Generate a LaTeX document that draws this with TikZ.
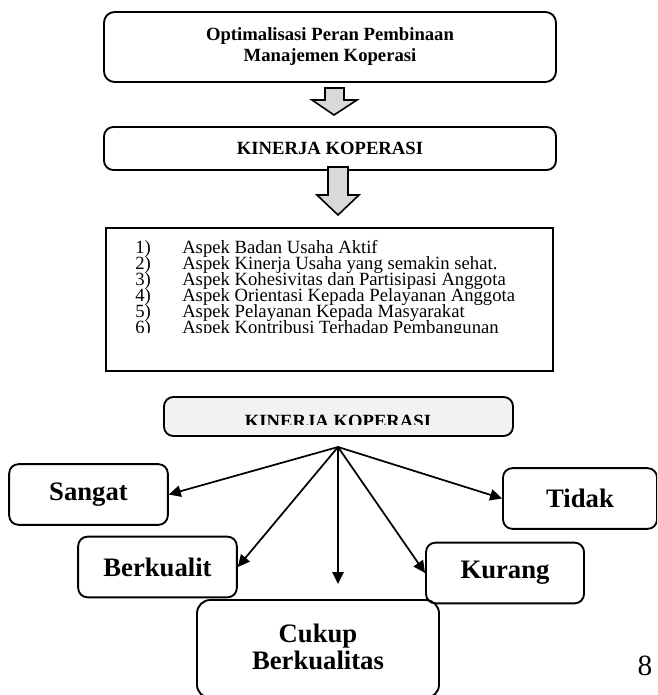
\documentclass[tikz,border=0pt]{standalone}
\usepackage{fontspec}
\setmainfont{Liberation Serif}
\usetikzlibrary{arrows.meta}
\definecolor{arrowgray}{HTML}{D9D9D9}
\definecolor{boxgray}{HTML}{F2F2F2}
\tikzset{
  roundbox/.style={draw, rounded corners=7pt, line width=1.4pt, inner sep=0pt},
  titlefont/.style={font=\bfseries\fontsize{14}{15.75}\selectfont},
  listfont/.style={font=\fontsize{14}{12}\selectfont},
  levelbox/.style={roundbox, minimum width=119pt, minimum height=45.5pt, font=\bfseries\fontsize{20}{20.25}\selectfont},
  blockarrow/.style={draw, line width=1.2pt, fill=arrowgray, line join=miter},
  pointer/.style={-{Triangle[length=9pt,width=8.5pt]}, line width=1.3pt},
}
\begin{document}
\begin{tikzpicture}[x=0.75pt, y=-0.75pt]
  \clip (0,0) rectangle (657,695);
  % bagian atas
  \node[roundbox, rounded corners=8pt, minimum width=339pt, minimum height=52.5pt, titlefont, align=center] (optimal) at (330,47) {Optimalisasi Peran Pembinaan\\Manajemen Koperasi};
  \draw[blockarrow] (325,88) -- (344,88) -- (344,100) -- (357,100) -- (334,115) -- (312,100) -- (325,100) -- cycle;
  \node[roundbox, minimum width=339pt, minimum height=32.25pt, titlefont] (kinerja) at (330,148.5) {KINERJA KOPERASI};
  \draw[blockarrow] (328,167) -- (348,167) -- (348,195) -- (359,195) -- (338,215) -- (317,195) -- (328,195) -- cycle;
  % daftar aspek
  \node[draw, line width=0.8pt, minimum width=335.25pt, minimum height=107.25pt] (aspek) at (329.5,299.5) {};
  \begin{scope}
    \clip (aspek.north west) rectangle (553,332);
    \foreach \n/\teks in {1/{Aspek Badan Usaha Aktif},
                          2/{Aspek Kinerja Usaha yang semakin sehat.},
                          3/{Aspek Kohesivitas dan Partisipasi Anggota},
                          4/{Aspek Orientasi Kepada Pelayanan Anggota},
                          5/{Aspek Pelayanan Kepada Masyarakat},
                          6/{Aspek Kontribusi Terhadap Pembangunan}} {
      \node[anchor=base west, inner sep=0pt, listfont] (no\n) at (135,{253+16*(\n-1)}) {\n)};
      \node[anchor=base west, inner sep=0pt, listfont] (asp\n) at (182,{253+16*(\n-1)}) {\teks};
    }
  \end{scope}
  % bagian bawah
  \node[roundbox, fill=boxgray, minimum width=261.75pt, minimum height=29.25pt] (kinerjabawah) at (338.5,416.5) {};
  \begin{scope}
    \clip (kinerjabawah.north west) rectangle (513,424);
    \node[anchor=base, inner sep=0pt, titlefont] (kinerjateks) at (338,427) {KINERJA KOPERASI};
  \end{scope}
  \coordinate (pusat) at (338,447);
  \node[levelbox] (sangat) at (88.5,494.5) {Sangat};
  \node[levelbox, minimum width=115.5pt] (tidak) at (580,498.5) {Tidak};
  \node[levelbox] (berkualit) at (157.5,567) {Berkualit};
  \node[levelbox, minimum width=118.5pt] (kurang) at (505,573) {Kurang};
  \node[roundbox, rounded corners=10pt, minimum width=181.5pt, minimum height=73.5pt] (cukup) at (318,649) {};
  \node[font=\bfseries\fontsize{20}{20.25}\selectfont, align=center, inner sep=0pt] (cukupteks) at (318,646.5) {Cukup\\Berkualitas};
  \draw[pointer] (pusat) -- (sangat.east);
  \draw[pointer] (pusat) -- (berkualit.east);
  \draw[pointer, shorten >=11.25pt] (pusat) -- (pusat |- cukup.north);
  \draw[pointer] (pusat) -- (kurang.west);
  \draw[pointer] (pusat) -- (tidak.west);
  \node[font=\fontsize{22}{22}\selectfont, inner sep=0pt] (halaman) at (645,666) {8};
\end{tikzpicture}
\end{document}
